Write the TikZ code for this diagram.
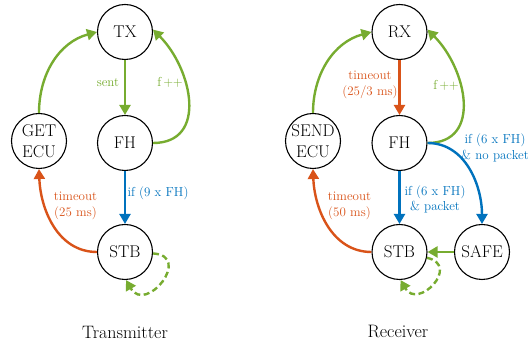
\documentclass[tikz,border=0pt]{standalone}
\usetikzlibrary{arrows.meta}
\definecolor{mgreen}{RGB}{119,172,48}
\definecolor{morange}{RGB}{217,83,25}
\definecolor{mblue}{RGB}{0,114,189}
\begin{document}
\begin{tikzpicture}[x=1pt,y=1pt,
  state/.style={circle,draw,line width=1.1pt,minimum size=55pt,inner sep=0pt,
    font=\fontsize{17}{20.5}\selectfont,align=center},
  tr/.style={line width=2.4pt,-{Triangle[length=10pt,width=11pt]}},
  loopline/.style={tr,dash pattern=on 6pt off 3.5pt},
  lbl/.style={font=\fontsize{13}{15.5}\selectfont,align=center},
  caption/.style={font=\fontsize{18}{22}\selectfont}]
\useasboundingbox (0,0) rectangle (531,347);

% ---------------- Transmitter ----------------
\node[state] (tx)  at (125,315) {TX};
\node[state] (tfh) at (125,204) {FH};
\node[state] (get) at (39,206)  {GET\\ECU};
\node[state] (tstb) at (125,95) {STB};

\draw[tr,mgreen] (tx) -- (tfh);
\draw[tr,mgreen] (tfh.east) to[out=0,in=-45,looseness=1.25] (tx.5);
\draw[tr,mgreen] (get.north) to[out=90,in=195] (tx.west);
\draw[tr,mblue] (tfh) -- (tstb);
\draw[tr,morange] (tstb.west) to[out=180,in=-88] (get.south);
\draw[loopline,mgreen] (tstb.-3) to[out=-3,in=-60,looseness=2.7] (tstb.-88);

\node[lbl,text=mgreen] (lsent) at (108,264) {sent};
\node[lbl,text=mgreen] (ltf) at (170,265) {f\,+\kern-0.5pt+};
\node[lbl,text=mblue] (lt9) at (158,154) {if (9 x FH)};
\node[lbl,text=morange] (lt25) at (75.5,141) {timeout\\(25 ms)};
\node[caption] (ttitle) at (125,15) {Transmitter};

% ---------------- Receiver ----------------
\node[state] (rx)  at (399.5,315) {RX};
\node[state] (rfh) at (399.5,204) {FH};
\node[state] (send) at (313,206) {SEND\\ECU};
\node[state] (rstb) at (399.5,95) {STB};
\node[state] (safe) at (482,95) {SAFE};

\draw[tr,morange] (rx) -- (rfh);
\draw[tr,mgreen] (rfh.east) to[out=0,in=-45,looseness=1.25] (rx.5);
\draw[tr,mgreen] (send.north) to[out=90,in=195] (rx.west);
\draw[tr,mblue] (rfh) -- (rstb);
\draw[tr,mblue] (rfh.east) to[out=0,in=90] (safe.north);
\draw[tr,mgreen] (safe) -- (rstb);
\draw[tr,morange] (rstb.west) to[out=180,in=-88] (send.south);
\draw[loopline,mgreen] (rstb.-12) to[out=-12,in=-60,looseness=2.6] (rstb.-88);

\node[lbl,text=morange] (lr25) at (370,262) {timeout\\(25/3 ms)};
\node[lbl,text=mgreen] (lrf) at (446,262) {f\,+\kern-0.5pt+};
\node[lbl,text=mblue] (lrno) at (495,199) {if (6 x FH)\\\& no packet};
\node[lbl,text=mblue] (lrp) at (435,147.5) {if (6 x FH)\\\& packet};
\node[lbl,text=morange] (lr50) at (349.5,141) {timeout\\(50 ms)};
\node[caption] (rtitle) at (398,15) {Receiver};
\end{tikzpicture}
\end{document}
